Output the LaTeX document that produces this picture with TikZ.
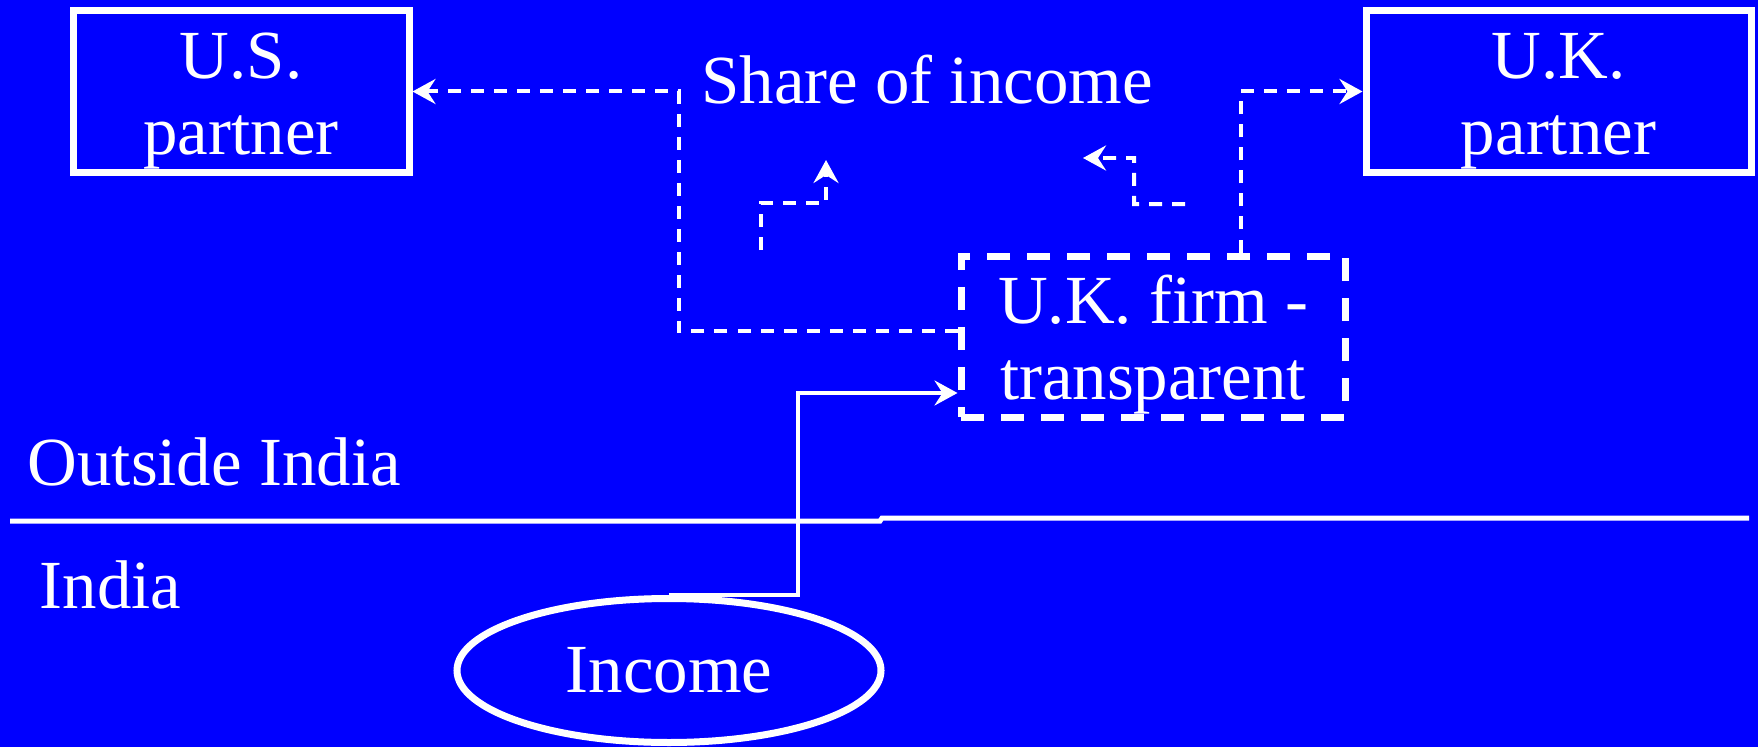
\documentclass[tikz,border=0pt]{standalone}
\usepackage{fontspec}
\setmainfont{Liberation Serif}
\usetikzlibrary{arrows.meta, positioning, shapes.geometric}
\newcommand{\lift}{\rule{0pt}{18.4pt}}

\begin{document}
\begin{tikzpicture}[
    font=\fontsize{19.6}{21.8}\selectfont,
    partner/.style={rectangle, draw=white, line width=0.07cm, text=white, align=center, minimum height=1.61cm, inner sep=0pt},
    firm/.style={rectangle, draw=white, line width=0.07cm, dash pattern=on 0.23cm off 0.17cm, text=white, align=center, minimum width=3.84cm, minimum height=1.61cm, inner sep=0pt},
    lbl/.style={text=white, inner sep=0pt},
    share/.style={draw=white, line width=0.04cm, dash pattern=on 0.13cm off 0.1cm, -{Stealth[length=0.23cm, width=0.25cm, inset=0.08cm]}},
    flow/.style={draw=white, line width=0.035cm, -{Stealth[length=0.23cm, width=0.25cm, inset=0.08cm]}}]

    % Background
    \useasboundingbox (0,0) rectangle (17.58,7.47);
    \fill[blue] (0,0) rectangle (17.58,7.47);

    % Partners at the top
    \node[partner, minimum width=3.36cm] (usp) at (2.41,6.555) {\lift U.S.\\partner};
    \node[partner, minimum width=3.85cm] (ukp) at (15.585,6.555) {\lift U.K.\\partner};
    \node[lbl, anchor=base] (share) at (9.27,6.43) {Share of income};

    % The firm
    \node[firm] (ukf) at (11.53,4.105) {\lift U.K. firm -\\transparent};

    % Border between the two sides
    \draw[white, line width=0.05cm] (0.10,2.26) -- (8.80,2.26) -- (8.82,2.29) -- (17.49,2.29);
    \node[lbl, anchor=base west] (out) at (0.27,2.62) {Outside India};
    \node[lbl, anchor=base west] (ind) at (0.39,1.39) {India};

    % Source of income
    \node[ellipse, draw=white, line width=0.07cm, minimum width=4.24cm, minimum height=1.44cm, inner sep=0pt, text=white] (inc) at (6.69,0.765) {Income};

    % Income into the firm
    \draw[flow] (inc.north) -- ++(1.29,0) |- ([yshift=-0.565cm]ukf.west);

    % Shares going out to the partners
    \draw[share] ([yshift=0.055cm]ukf.west) -- ++(-2.79,0) |- (usp.east);
    \draw[share] ([xshift=0.88cm]ukf.north) |- (ukp.west);

    % Small arrows
    \coordinate (upA) at (7.61,4.97);
    \coordinate (upB) at (8.26,5.87);
    \draw[share] (upA) -- ++(0,0.47) -| (upB);
    \coordinate (lfA) at (11.85,5.43);
    \coordinate (lfB) at (10.83,5.89);
    \draw[share] (lfA) -| ++(-0.51,0.46) -- (lfB);

\end{tikzpicture}
\end{document}
